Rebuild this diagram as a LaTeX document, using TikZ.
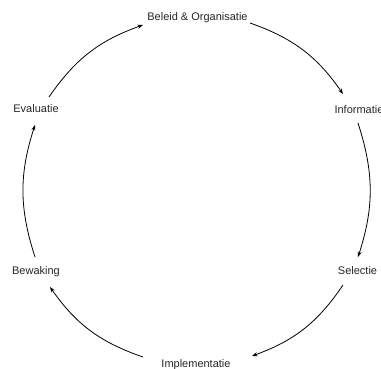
\documentclass[tikz,border=0pt]{standalone}
\usepackage{fontspec}
\setmainfont{Liberation Sans}
\usetikzlibrary{arrows.meta,calc}
\begin{document}
\begin{tikzpicture}[x=1pt,y=1pt,
  stage/.style={inner sep=0pt,anchor=base,font=\fontsize{11}{13}\selectfont,text=black!85},
  cycle/.style={draw=black,line width=0.8pt,-{Stealth[length=5.5pt,width=4pt]}}]
\useasboundingbox (0,0) rectangle (381,-369);
% stages of the cycle
\node[stage] (B)   at (197.5,-21)  {Beleid \& Organisatie};
\node[stage] (I)   at (359,-114)   {Informatie};
\node[stage] (S)   at (357.5,-275) {Selectie};
\node[stage] (M)   at (196,-367)   {Implementatie};
\node[stage] (W)   at (36,-275)    {Bewaking};
\node[stage] (E)   at (36,-113)    {Evaluatie};
% arrows running clockwise between the stages
\draw[cycle] ($(B.base)+(52.5,-2)$)  to[bend left=18] ($(I.base)+(-16,20)$);
\draw[cycle] ($(I.base)+(-1,-9)$)    to[bend left=18] ($(S.base)+(0.5,18)$);
\draw[cycle] ($(S.base)+(-14.5,-10)$) to[bend left=18] ($(M.base)+(56,11)$);
\draw[cycle] ($(M.base)+(-53,10)$)   to[bend left=18] ($(W.base)+(14,-12)$);
\draw[cycle] ($(W.base)+(-1,18)$)    to[bend left=18] ($(E.base)+(-1,-12)$);
\draw[cycle] ($(E.base)+(13,16)$)    to[bend left=18] ($(B.base)+(-54.5,-4)$);
\end{tikzpicture}
\end{document}
